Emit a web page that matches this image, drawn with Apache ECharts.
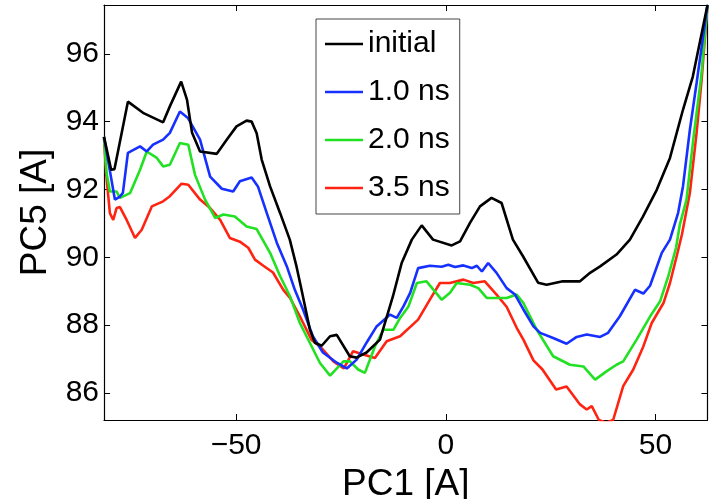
<!DOCTYPE html>
<html><head><meta charset="utf-8">
<script src="https://cdn.jsdelivr.net/npm/echarts@6/dist/echarts.min.js"></script>
<style>html,body{margin:0;padding:0;background:#fff}#c{width:711px;height:499px}</style>
</head><body><div id="c"></div>
<script>
var seriesNames = ['initial', '1.0 ns', '2.0 ns', '3.5 ns'];
var xTicks = [-50, 0, 50];
var yTicks = [86, 88, 90, 92, 94, 96];

var initialX = [-81.5,-79.8,-79.0,-75.8,-72.2,-67.4,-65.8,-63.1,-61.7,-60.5,-58.6,-54.6,-52.2,-49.9,-47.5,-46.3,-45.1,-43.9,-41.9,-39.5,-37.2,-35.6,-34.4,-32.4,-31.2,-29.6,-27.6,-26.0,-22.9,-21.3,-18.9,-15.7,-12.6,-10.5,-8.1,-5.75,-3.05,1.4,3.4,5.8,8.15,10.9,13.3,16.0,18.4,22.0,24.05,27.9,32.0,34.4,36.8,40.7,43.9,47.0,50.3,53.45,56.55,58.9,62.4];
var initialY = [93.55,92.58,92.6,94.59,94.26,93.98,94.45,95.18,94.64,93.67,93.12,93.05,93.47,93.86,94.03,94.0,93.66,92.88,92.09,91.3,90.52,89.73,89.04,87.86,87.48,87.39,87.67,87.71,87.08,87.04,87.19,87.57,88.85,89.84,90.52,90.94,90.52,90.35,90.47,91.02,91.5,91.75,91.6,90.52,90.03,89.25,89.19,89.29,89.29,89.54,89.73,90.08,90.52,91.2,91.99,92.93,94.35,95.33,97.44];

var ns10X = [-81.5,-78.9,-77.7,-77.0,-75.8,-72.9,-71.3,-69.8,-67.4,-65.8,-63.4,-61.5,-58.6,-56.2,-53.4,-50.7,-49.1,-46.3,-44.8,-42.7,-40.3,-37.9,-36.0,-34.05,-31.7,-29.3,-26.0,-23.6,-21.25,-18.9,-16.5,-13.3,-11.7,-10.1,-8.5,-6.6,-3.8,-1.0,0.6,2.2,4.2,6.2,7.4,8.6,10.1,12.1,14.5,16.5,18.5,20.9,22.5,25.6,28.8,31.2,33.6,36.8,38.7,41.5,45.1,47.1,48.7,51.5,53.45,55.4,56.55,58.2,59.8,62.4];
var ns10Y = [93.55,91.7,91.79,91.9,93.08,93.27,93.12,93.32,93.47,93.67,94.3,94.11,93.47,92.38,92.02,91.94,92.24,92.35,92.09,91.31,90.43,89.73,89.04,88.46,87.67,87.19,86.89,86.72,86.98,87.48,87.96,88.31,88.21,88.55,88.95,89.68,89.75,89.72,89.78,89.71,89.76,89.68,89.75,89.58,89.83,89.54,89.09,88.9,88.46,87.96,87.77,87.62,87.45,87.65,87.72,87.65,87.77,88.26,89.04,88.93,89.16,90.13,90.52,91.31,92.09,93.76,95.14,97.44];

var ns20X = [-81.5,-80.9,-80.1,-78.5,-77.7,-75.3,-72.9,-71.3,-68.9,-67.4,-65.8,-63.4,-61.4,-59.8,-57.4,-55.0,-53.05,-50.3,-47.5,-45.1,-41.9,-39.5,-37.15,-34.8,-32.4,-30.0,-27.6,-24.4,-22.85,-20.9,-19.3,-16.9,-14.9,-12.5,-10.9,-8.9,-6.9,-4.6,-1.0,1.0,2.6,5.8,7.75,9.75,14.5,16.9,18.5,21.7,25.6,29.6,32.8,35.6,38.4,40.7,42.3,45.5,48.7,51.1,53.05,54.9,55.8,57.4,59.0,60.9,62.4];
var ns20Y = [93.55,92.49,91.94,91.94,91.75,91.89,92.58,93.12,92.93,92.68,92.73,93.37,93.32,92.43,91.7,91.16,91.26,91.2,90.91,90.83,90.13,89.44,88.85,88.06,87.47,86.88,86.51,86.93,86.93,86.69,86.59,87.37,87.86,87.86,88.21,88.55,89.24,89.29,88.75,88.95,89.24,89.19,89.09,88.8,88.8,88.9,88.65,87.86,87.08,86.83,86.78,86.39,86.64,86.83,86.93,87.57,88.25,88.7,89.44,90.28,90.96,91.7,93.47,95.33,97.44];

var ns35X = [-81.5,-81.0,-80.1,-79.3,-78.5,-77.7,-76.1,-74.1,-72.5,-70.1,-67.4,-65.8,-63.0,-61.4,-58.6,-56.2,-53.8,-51.5,-49.1,-47.1,-45.5,-43.5,-41.2,-38.75,-37.15,-34.8,-32.0,-30.0,-26.8,-24.3,-22.1,-19.7,-16.9,-14.1,-10.9,-6.6,-3.8,-1.4,1.0,4.2,6.55,9.3,12.1,14.5,16.9,18.5,20.9,23.05,26.3,28.8,32.0,33.6,34.8,36.5,38.2,39.9,42.3,44.7,47.1,49.1,51.9,53.45,55.05,56.3,58.2,59.8,61.0,62.4];
var ns35Y = [93.55,92.49,91.3,91.1,91.45,91.48,91.1,90.57,90.81,91.5,91.65,91.8,92.17,92.14,91.7,91.45,91.1,90.57,90.46,90.28,89.93,89.75,89.55,89.04,88.8,88.26,87.56,87.37,86.93,86.72,87.23,87.13,87.03,87.52,87.67,88.16,88.75,89.24,89.24,89.34,89.24,89.29,88.9,88.54,87.92,87.57,86.96,86.69,86.1,86.19,85.66,85.51,85.61,85.2,85.12,85.2,86.2,86.69,87.37,88.06,88.65,89.24,90.03,90.67,91.9,93.67,95.23,97.44];

var colors = ['#000000', '#1530ff', '#22e022', '#ff2412'];

function pairs(xs, ys) { return xs.map(function (x, i) { return [x, ys[i]]; }); }
var allData = [pairs(initialX, initialY), pairs(ns10X, ns10Y), pairs(ns20X, ns20Y), pairs(ns35X, ns35Y)];

var FONT = '"Liberation Sans", Arial, Helvetica, sans-serif';
function fmt(v) { return String(v).replace('-', '\u2212'); }

var xMin = -81.5, xMax = 62.4, yMin = 85.2, yMax = 97.44;
var axisLineStyle = { color: '#000', width: 1.2 };

var chart = echarts.init(document.getElementById('c'), null, { renderer: 'canvas' });
chart.setOption({
  backgroundColor: '#fff',
  animation: false,
  grid: { left: 104, right: 3.5, top: 5, bottom: 79, containLabel: false, outerBoundsMode: 'none' },
  legend: {
    orient: 'vertical', left: 316, top: 19,
    data: seriesNames.map(function (n) { return { name: n, icon: 'rect' }; }),
    itemWidth: 38, itemHeight: 2.6, itemGap: 18,
    padding: [10, 10, 11, 9],
    borderColor: '#444', borderWidth: 1, backgroundColor: '#fff',
    textStyle: { fontFamily: FONT, fontSize: 30, lineHeight: 30, color: '#000' }
  },
  xAxis: [{
    type: 'value', min: xMin, max: xMax, position: 'bottom',
    name: 'PC1 [A]', nameLocation: 'middle', nameGap: 32,
    nameTextStyle: { fontFamily: FONT, fontSize: 37, color: '#000' },
    axisLine: { show: true, onZero: false, lineStyle: axisLineStyle },
    axisTick: { show: true, inside: true, length: 6, customValues: xTicks, lineStyle: { color: '#000' } },
    axisLabel: { show: true, customValues: xTicks, formatter: fmt, margin: 11, fontFamily: FONT, fontSize: 30, color: '#000' },
    splitLine: { show: false }
  }, {
    type: 'value', min: xMin, max: xMax, position: 'top',
    axisLine: { show: true, onZero: false, lineStyle: axisLineStyle },
    axisTick: { show: true, inside: true, length: 6, customValues: xTicks, lineStyle: { color: '#000' } },
    axisLabel: { show: false }, splitLine: { show: false }
  }],
  yAxis: [{
    type: 'value', min: yMin, max: yMax, position: 'left',
    name: 'PC5 [A]', nameLocation: 'middle', nameGap: 50, nameRotate: 90,
    nameTextStyle: { fontFamily: FONT, fontSize: 37, color: '#000' },
    axisLine: { show: true, onZero: false, lineStyle: axisLineStyle },
    axisTick: { show: true, inside: true, length: 6, customValues: yTicks, lineStyle: { color: '#000' } },
    axisLabel: { show: true, customValues: yTicks, margin: 5, fontFamily: FONT, fontSize: 30, color: '#000' },
    splitLine: { show: false }
  }, {
    type: 'value', min: yMin, max: yMax, position: 'right',
    axisLine: { show: true, onZero: false, lineStyle: axisLineStyle },
    axisTick: { show: true, inside: true, length: 6, customValues: yTicks, lineStyle: { color: '#000' } },
    axisLabel: { show: false }, splitLine: { show: false }
  }],
  series: seriesNames.map(function (n, i) {
    return {
      name: n, type: 'line', data: allData[i], xAxisIndex: 0, yAxisIndex: 0,
      symbol: 'none', smooth: false, clip: true,
      lineStyle: { color: colors[i], width: 2.6 }, itemStyle: { color: colors[i] },
      z: 2 + (3 - i)
    };
  })
});
</script></body></html>
